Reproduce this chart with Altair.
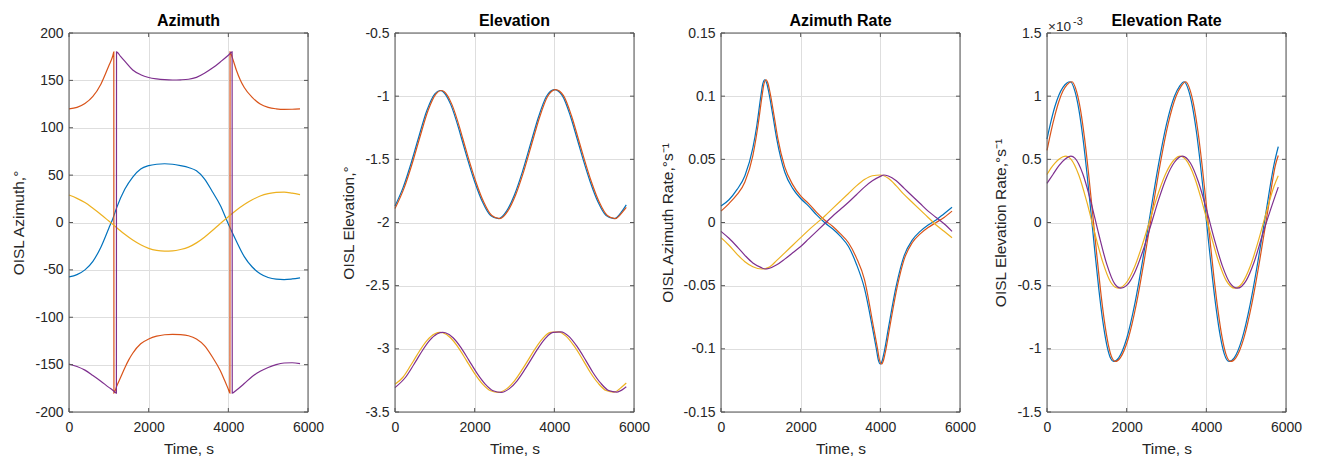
import altair as alt
import pandas as pd

FONT = "Liberation Sans"
COLORS = ["#0072BD", "#D95319", "#EDB120", "#7E2F8E"]
W, H = 239, 379

# ---------------- tick values ----------------
X_TICKS = [0, 2000, 4000, 6000]
AZ_TICKS = [-200, -150, -100, -50, 0, 50, 100, 150, 200]
EL_TICKS = [-3.5, -3, -2.5, -2, -1.5, -1, -0.5]
AZR_TICKS = [-0.15, -0.1, -0.05, 0, 0.05, 0.1, 0.15]
ELR_TICKS = [-1.5, -1, -0.5, 0, 0.5, 1, 1.5]

# ---------------- Azimuth (deg) ----------------
az_blue_t = [0, 200, 400, 600, 800, 1000, 1100, 1200, 1400, 1600, 1800, 2000, 2200, 2400, 2600, 2800, 3000,
             3200, 3400, 3600, 3800, 4000, 4200, 4400, 4600, 4800, 5000, 5200, 5400, 5600, 5800]
az_blue_v = [-57.4, -55, -50, -41, -26, -6, 4, 16, 35, 48, 56.5, 60, 61.5, 62, 61.5, 60, 58,
             54.5, 46, 32.5, 18, -1.5, -19.5, -36, -47, -54, -58, -59.8, -60.2, -59.6, -58.5]

az_orange_t = [0, 200, 400, 600, 800, 1000, 1100, 1125, 1128, 1200, 1300, 1400, 1500, 1600, 1800, 2000, 2200,
               2400, 2600, 2800, 3000, 3200, 3400, 3600, 3800, 3900, 4000, 4040, 4043, 4100, 4200, 4300, 4400,
               4600, 4800, 5000, 5200, 5400, 5600, 5800]
az_orange_v = [120, 121.5, 125.5, 133, 146, 165.5, 176, 180, -180, -172.5, -163, -153.5, -145, -138, -128, -123, -120,
               -118.5, -118, -118.3, -119.5, -123, -130, -142, -156.5, -166, -176, -180, 180, 174, 161, 150.5, 142.5,
               132, 125, 121.5, 120, 119.4, 119.5, 120]

az_yellow_t = [0, 200, 400, 600, 800, 1000, 1200, 1400, 1600, 1800, 2000, 2200, 2400, 2600, 2800, 3000,
               3200, 3400, 3600, 3800, 4000, 4200, 4400, 4600, 4800, 5000, 5200, 5400, 5600, 5800]
az_yellow_v = [29, 25.5, 21, 15, 8.5, 1.5, -5.5, -12.5, -18.5, -23.5, -27.3, -29.5, -30.3, -30, -28.5, -26,
               -21.5, -15.5, -8.5, -1, 6, 13, 19, 24, 28, 30.5, 31.8, 32, 31, 29.5]

az_purple_t = [0, 200, 400, 600, 800, 1000, 1100, 1190, 1193, 1300, 1400, 1600, 1800, 2000, 2200, 2400, 2600,
               2800, 3000, 3200, 3400, 3600, 3800, 4000, 4095, 4098, 4200, 4400, 4600, 4800, 5000, 5200, 5400,
               5600, 5800]
az_purple_v = [-149.3, -152, -155.8, -161.5, -167.5, -174, -177, -180, 180, 175, 170.3, 161, 156, 153, 151.5, 150.7,
               150.4, 150.6, 151.2, 153.2, 157.5, 163, 169.5, 176.5, 180, -180, -177, -170, -162.5, -157, -153,
               -150, -148.3, -148, -149]

# ---------------- Elevation (deg) ----------------
el_blue_t = [0, 200, 400, 585, 800, 1000, 1128, 1200, 1400, 1600, 1671, 1800, 2000, 2200, 2400, 2600, 2800,
             3000, 3200, 3442, 3600, 3800, 4000, 4200, 4400, 4570, 4700, 4900, 5100, 5300, 5500, 5700, 5806]
el_blue_v = [-1.869, -1.726, -1.535, -1.335, -1.113, -0.981, -0.955, -0.963, -1.067, -1.257, -1.335, -1.476,
             -1.677, -1.84, -1.945, -1.970, -1.91, -1.78, -1.597, -1.335, -1.167, -1.003, -0.948, -0.996, -1.155,
             -1.335, -1.476, -1.677, -1.84, -1.945, -1.970, -1.91, -1.86]

el_orange_t = [0, 230, 430, 615, 830, 1030, 1158, 1230, 1430, 1630, 1701, 1830, 2030, 2230, 2430, 2630, 2830,
               3030, 3230, 3472, 3630, 3830, 4030, 4230, 4430, 4600, 4730, 4930, 5130, 5330, 5530, 5730, 5806]
el_orange_v = [-1.89, -1.726, -1.535, -1.335, -1.113, -0.981, -0.955, -0.963, -1.067, -1.257, -1.335, -1.476,
               -1.677, -1.84, -1.945, -1.970, -1.91, -1.78, -1.597, -1.335, -1.167, -1.003, -0.948, -0.996, -1.155,
               -1.335, -1.476, -1.677, -1.84, -1.945, -1.970, -1.91, -1.88]

el_yellow_t = [0, 200, 400, 476, 600, 800, 1000, 1132, 1200, 1400, 1600, 1788, 2000, 2200, 2400, 2600, 2800,
               3000, 3200, 3342, 3500, 3700, 3900, 4100, 4300, 4500, 4720, 4900, 5100, 5300, 5500, 5700, 5806]
el_yellow_v = [-3.28, -3.225, -3.128, -3.089, -3.025, -2.935, -2.881, -2.870, -2.873, -2.914, -2.994, -3.089,
               -3.196, -3.279, -3.332, -3.345, -3.317, -3.253, -3.161, -3.089, -3.008, -2.921, -2.869, -2.865,
               -2.901, -2.979, -3.089, -3.185, -3.272, -3.330, -3.342, -3.300, -3.27]

el_purple_t = [0, 265, 465, 541, 665, 865, 1065, 1197, 1265, 1465, 1665, 1853, 2065, 2265, 2465, 2665, 2865,
               3065, 3265, 3407, 3565, 3765, 3965, 4165, 4365, 4565, 4785, 4965, 5165, 5365, 5565, 5765, 5806]
el_purple_v = [-3.307, -3.225, -3.128, -3.089, -3.025, -2.935, -2.881, -2.870, -2.873, -2.914, -2.994, -3.089,
               -3.196, -3.279, -3.332, -3.345, -3.317, -3.253, -3.161, -3.089, -3.008, -2.921, -2.869, -2.865,
               -2.901, -2.979, -3.089, -3.185, -3.272, -3.330, -3.342, -3.31, -3.30]

# ---------------- Azimuth rate (deg/s) ----------------
azr_blue_t = [0, 200, 400, 600, 800, 900, 1000, 1050, 1100, 1150, 1200, 1300, 1400, 1600, 1800, 2000, 2200,
              2400, 2600, 2800, 3000, 3200, 3400, 3600, 3800, 3900, 3950, 4000, 4050, 4100, 4200, 4400, 4600,
              4800, 5000, 5200, 5400, 5600, 5800]
azr_blue_v = [0.013, 0.018, 0.026, 0.037, 0.059, 0.077, 0.100, 0.110, 0.113, 0.110, 0.103, 0.085, 0.066, 0.040,
              0.027, 0.019, 0.013, 0.006, 0.0, -0.005, -0.011, -0.019, -0.033, -0.052, -0.083, -0.100, -0.109,
              -0.112, -0.109, -0.102, -0.084, -0.050, -0.026, -0.014, -0.007, -0.002, 0.002, 0.007, 0.012]

azr_orange_t = [0, 200, 400, 600, 800, 930, 1030, 1080, 1130, 1180, 1230, 1330, 1430, 1600, 1800, 2000, 2200,
                2400, 2600, 2800, 3000, 3200, 3400, 3600, 3830, 3930, 3980, 4030, 4080, 4130, 4230, 4430, 4600,
                4800, 5000, 5200, 5400, 5600, 5800]
azr_orange_v = [0.009, 0.015, 0.022, 0.032, 0.053, 0.077, 0.100, 0.110, 0.113, 0.110, 0.103, 0.085, 0.066, 0.044,
                0.030, 0.021, 0.015, 0.008, 0.002, -0.003, -0.009, -0.016, -0.028, -0.045, -0.083, -0.100, -0.109,
                -0.112, -0.109, -0.102, -0.084, -0.050, -0.029, -0.016, -0.009, -0.004, 0.000, 0.004, 0.009]

azr_yellow_t = [0, 200, 400, 600, 800, 1025, 1200, 1400, 1600, 1800, 2000, 2200, 2400, 2600, 2800, 3000,
                3200, 3400, 3600, 3800, 4000, 4200, 4400, 4600, 4800, 5000, 5200, 5400, 5600, 5800]
azr_yellow_v = [-0.012, -0.018, -0.025, -0.031, -0.035, -0.0368, -0.0355, -0.030, -0.024, -0.018, -0.012, -0.006,
                -0.0005, 0.005, 0.011, 0.017, 0.023, 0.029, 0.034, 0.037, 0.0376, 0.035, 0.029, 0.022, 0.016,
                0.010, 0.004, -0.002, -0.007, -0.012]

azr_purple_t = [0, 200, 400, 600, 800, 1000, 1108, 1200, 1400, 1600, 1800, 2000, 2200, 2400, 2600, 2800, 3000,
                3200, 3400, 3600, 3800, 4000, 4083, 4200, 4400, 4600, 4800, 5000, 5200, 5400, 5600, 5800]
azr_purple_v = [-0.007, -0.0125, -0.019, -0.026, -0.032, -0.0355, -0.0368, -0.0364, -0.0335, -0.029, -0.024,
                -0.019, -0.013, -0.007, -0.001, 0.005, 0.0105, 0.016, 0.022, 0.028, 0.033, 0.0365, 0.0376, 0.0368,
                0.033, 0.027, 0.021, 0.015, 0.009, 0.004, -0.001, -0.007]

# ---------------- Elevation rate (x 1e-3 deg/s) ----------------
elr_blue_t = [0, 100, 200, 300, 400, 500, 585, 700, 800, 900, 1000, 1100, 1200, 1300, 1400, 1500, 1600, 1671,
              1800, 2000, 2200, 2400, 2600, 2800, 3000, 3200, 3330, 3442, 3550, 3650, 3750, 3850, 3950, 4050,
              4150, 4250, 4350, 4450, 4570, 4700, 4900, 5100, 5300, 5500, 5700, 5806]
elr_blue_v = [0.66, 0.80, 0.92, 1.01, 1.07, 1.105, 1.114, 1.04, 0.894, 0.674, 0.398, 0.089, -0.227, -0.525,
              -0.779, -0.968, -1.077, -1.10, -1.071, -0.918, -0.650, -0.301, 0.085, 0.460, 0.779, 1.000, 1.08,
              1.114, 1.05, 0.92, 0.72, 0.463, 0.17, -0.134, -0.43, -0.69, -0.90, -1.04, -1.10, -1.071, -0.917,
              -0.648, -0.300, 0.086, 0.461, 0.60]

elr_orange_t = [0, 100, 200, 300, 400, 500, 625, 740, 840, 940, 1040, 1140, 1240, 1340, 1440, 1540, 1640, 1711,
                1840, 2040, 2240, 2440, 2640, 2840, 3040, 3240, 3370, 3482, 3590, 3690, 3790, 3890, 3990, 4090,
                4190, 4290, 4390, 4490, 4610, 4740, 4940, 5140, 5340, 5540, 5740, 5806]
elr_orange_v = [0.57, 0.72, 0.85, 0.96, 1.04, 1.09, 1.114, 1.04, 0.894, 0.674, 0.398, 0.089, -0.227, -0.525,
                -0.779, -0.968, -1.077, -1.10, -1.071, -0.918, -0.650, -0.301, 0.085, 0.460, 0.779, 1.000, 1.08,
                1.114, 1.05, 0.92, 0.72, 0.463, 0.17, -0.134, -0.43, -0.69, -0.90, -1.04, -1.10, -1.071, -0.917,
                -0.648, -0.300, 0.086, 0.461, 0.53]

elr_yellow_t = [0, 100, 200, 300, 400, 476, 600, 800, 1000, 1200, 1400, 1600, 1788, 2000, 2200, 2400, 2600,
                2800, 3000, 3200, 3342, 3500, 3700, 3900, 4100, 4300, 4500, 4720, 4900, 5100, 5300, 5500, 5700, 5806]
elr_yellow_v = [0.38, 0.43, 0.47, 0.50, 0.52, 0.525, 0.502, 0.374, 0.163, -0.085, -0.314, -0.473, -0.52, -0.473,
                -0.350, -0.170, 0.037, 0.238, 0.400, 0.499, 0.525, 0.491, 0.360, 0.154, -0.082, -0.302, -0.460,
                -0.52, -0.480, -0.349, -0.152, 0.074, 0.287, 0.37]

elr_purple_t = [0, 150, 300, 450, 601, 700, 900, 1100, 1300, 1500, 1700, 1855, 2000, 2200, 2400, 2600, 2800,
                3000, 3200, 3400, 3600, 3800, 4000, 4200, 4400, 4600, 4779, 5000, 5200, 5400, 5600, 5806]
elr_purple_v = [0.31, 0.38, 0.45, 0.50, 0.525, 0.509, 0.384, 0.166, -0.093, -0.330, -0.486, -0.52, -0.498, -0.397,
                -0.232, -0.029, 0.179, 0.357, 0.477, 0.525, 0.471, 0.322, 0.107, -0.131, -0.341, -0.482, -0.52,
                -0.460, -0.313, -0.107, 0.09, 0.28]

INK = "#262626"
FRAME = "#555555"


def make_panel(title, ytitle, yticks, series, exponent=False):
    xscale = alt.Scale(domain=[X_TICKS[0], X_TICKS[-1]], nice=False, zero=False)
    yscale = alt.Scale(domain=[yticks[0], yticks[-1]], nice=False, zero=False)
    common = dict(grid=True, gridColor="#DEDEDE", gridWidth=1, domain=False, ticks=False, tickSize=0,
                  labelFontSize=14, labelColor=INK, labelFont=FONT, labelFlush=False,
                  labelExpr="datum.value + ''", titleFontSize=15.5, titleFontWeight="normal",
                  titleColor=INK, titleFont=FONT)
    xaxis = alt.Axis(values=X_TICKS, title="Time, s", labelPadding=8.5, titlePadding=7, **common)
    yaxis = alt.Axis(values=yticks, title=ytitle, labelPadding=6, titlePadding=8, **common)
    xenc = alt.X("t:Q", scale=xscale, axis=xaxis)
    yenc = alt.Y("v:Q", scale=yscale, axis=yaxis)

    layers = []
    for (t, v), c in zip(series, COLORS):
        df = pd.DataFrame({"t": t, "v": v})
        layers.append(alt.Chart(df).mark_line(color=c, strokeWidth=1.2, interpolate="monotone")
                      .encode(x=xenc, y=yenc))

    ydf = pd.DataFrame({"v": yticks})
    xdf = pd.DataFrame({"t": X_TICKS})
    layers.append(alt.Chart(ydf).mark_rule(color=FRAME, strokeWidth=1)
                  .encode(y=yenc, x=alt.value(0), x2=alt.value(4)))
    layers.append(alt.Chart(ydf).mark_rule(color=FRAME, strokeWidth=1)
                  .encode(y=yenc, x=alt.value(W - 4), x2=alt.value(W)))
    layers.append(alt.Chart(xdf).mark_rule(color=FRAME, strokeWidth=1)
                  .encode(x=xenc, y=alt.value(H), y2=alt.value(H - 4)))
    layers.append(alt.Chart(xdf).mark_rule(color=FRAME, strokeWidth=1)
                  .encode(x=xenc, y=alt.value(0), y2=alt.value(4)))
    layers.append(alt.Chart(pd.DataFrame({"a": [0]})).mark_rect(filled=False, color=FRAME, strokeWidth=1)
                  .encode(x=alt.value(0), x2=alt.value(W), y=alt.value(0), y2=alt.value(H)))
    # panel title as a text mark so that its position is fixed relative to the plot
    layers.append(alt.Chart(pd.DataFrame({"s": [title]}))
                  .mark_text(align="center", baseline="alphabetic", fontSize=16, fontWeight="bold",
                             color="#000000", font=FONT)
                  .encode(text="s:N", x=alt.value(W / 2), y=alt.value(-7)))
    if exponent:
        layers.append(alt.Chart(pd.DataFrame({"s": ["\u00d710"]}))
                      .mark_text(align="left", baseline="alphabetic", fontSize=13.5, color=INK, font=FONT)
                      .encode(text="s:N", x=alt.value(1), y=alt.value(-2)))
        layers.append(alt.Chart(pd.DataFrame({"s": ["-3"]}))
                      .mark_text(align="left", baseline="alphabetic", fontSize=11, color=INK, font=FONT)
                      .encode(text="s:N", x=alt.value(26), y=alt.value(-8)))

    return alt.layer(*layers).properties(width=W, height=H)


p1 = make_panel("Azimuth", "OISL Azimuth,\u00b0", AZ_TICKS,
                [(az_blue_t, az_blue_v), (az_orange_t, az_orange_v),
                 (az_yellow_t, az_yellow_v), (az_purple_t, az_purple_v)])
p2 = make_panel("Elevation", "OISL Elevation,\u00b0", EL_TICKS,
                [(el_blue_t, el_blue_v), (el_orange_t, el_orange_v),
                 (el_yellow_t, el_yellow_v), (el_purple_t, el_purple_v)])
p3 = make_panel("Azimuth Rate", "OISL Azimuth Rate,\u00b0s\u207b\u00b9", AZR_TICKS,
                [(azr_blue_t, azr_blue_v), (azr_orange_t, azr_orange_v),
                 (azr_yellow_t, azr_yellow_v), (azr_purple_t, azr_purple_v)])
p4 = make_panel("Elevation Rate", "OISL Elevation Rate,\u00b0s\u207b\u00b9", ELR_TICKS,
                [(elr_blue_t, elr_blue_v), (elr_orange_t, elr_orange_v),
                 (elr_yellow_t, elr_yellow_v), (elr_purple_t, elr_purple_v)], exponent=True)

chart = alt.hconcat(p1, p2, p3, p4, spacing=87, bounds="flush").properties(
    padding={"left": 3, "top": 4, "right": 5, "bottom": 0}
).configure_view(stroke="transparent")

chart.save("out.html", embed_options={"renderer": "svg", "actions": False})
